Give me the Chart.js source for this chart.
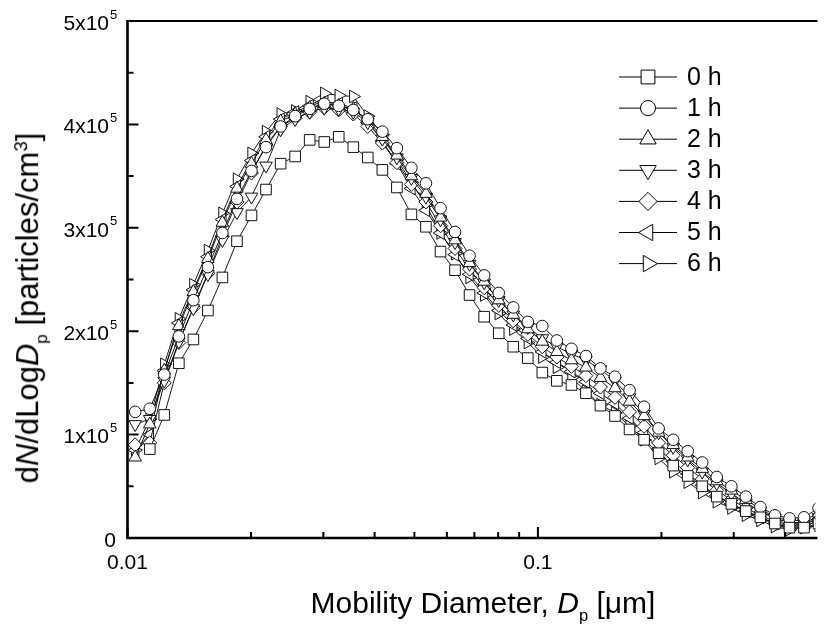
<!DOCTYPE html>
<html>
<head>
<meta charset="utf-8">
<script src="https://cdn.jsdelivr.net/npm/chart.js@4.4.1/dist/chart.umd.min.js"></script>
<style>
  html, body { margin: 0; padding: 0; background: #fff; }
  #wrap { position: relative; width: 824px; height: 625px; overflow: hidden; }
  .title {
    position: absolute;
    font-family: "Liberation Sans", Arial, sans-serif;
    font-size: 30px;
    line-height: 1;
    color: #000;
    white-space: nowrap;
  }
  .title sub { font-size: 55%; vertical-align: -0.5em; }
  .title sup { font-size: 60%; vertical-align: 0.6em; }
  #xTitle { left: 483px; top: 588px; transform: translateX(-50%); }
  #yTitle { left: 31px; top: 308px; font-size: 31px; transform: translate(-50%, -50%) rotate(-90deg); }
</style>
</head>
<body>
<div id="wrap">
  <canvas id="sizeChart"></canvas>
  <div class="title" id="xTitle">Mobility Diameter, <i>D</i><sub>p</sub> [&mu;m]</div>
  <div class="title" id="yTitle">d<i>N</i>/dLog<i>D</i><sub>p</sub> [particles/cm<sup>3</sup>]</div>
</div>
<script>
// mobility diameter of each channel [um]
const diameters = [
    0.01044, 0.01133, 0.01229, 0.01334, 0.01447, 0.01570, 0.01703, 0.01848,
    0.02005, 0.02175, 0.02361, 0.02561, 0.02779, 0.03016, 0.03271, 0.03549,
    0.03850, 0.04178, 0.04533, 0.04918, 0.05335, 0.05790, 0.06281, 0.06814,
    0.07396, 0.08026, 0.08708, 0.09447, 0.1025, 0.1112, 0.1207, 0.1309,
    0.1420, 0.1541, 0.1672, 0.1814, 0.1968, 0.2136, 0.2317, 0.2514,
    0.2727, 0.2960, 0.3211, 0.3483, 0.3779, 0.4102, 0.4450, 0.4828
];

// dN/dLogDp in units of 1x10^5 particles/cm3
const h0 = [
    null, 0.86, 1.19, 1.69, 1.92, 2.20, 2.52, 2.87, 3.12, 3.37,
    3.62, 3.69, 3.85, 3.83, 3.88, 3.78, 3.68, 3.56, 3.39, 3.13,
    3.01, 2.77, 2.59, 2.35, 2.14, 1.98, 1.85, 1.74, 1.60, 1.52,
    1.48, 1.40, 1.28, 1.18, 1.05, 0.95, 0.82, 0.70, 0.60, 0.50,
    0.40, 0.33, 0.26, 0.20, 0.14, 0.10, 0.10, 0.14
];
const h1 = [
    1.22, 1.25, 1.58, 1.95, 2.30, 2.62, 2.95, 3.28, 3.55, 3.78,
    3.98, 4.08, 4.15, 4.20, 4.18, 4.14, 4.05, 3.93, 3.77, 3.58,
    3.43, 3.19, 2.96, 2.73, 2.54, 2.37, 2.23, 2.09, 2.05, 1.91,
    1.83, 1.76, 1.64, 1.56, 1.43, 1.27, 1.06, 0.95, 0.84, 0.73,
    0.59, 0.50, 0.40, 0.30, 0.22, 0.19, 0.20, 0.29
];
const h2 = [
    0.78, 1.10, 1.62, 2.05, 2.38, 2.70, 3.05, 3.38, 3.62, 3.85,
    4.03, 4.10, 4.16, 4.20, 4.18, 4.15, 4.04, 3.88, 3.70, 3.50,
    3.33, 3.10, 2.88, 2.66, 2.48, 2.30, 2.16, 2.02, 1.90, 1.80,
    1.72, 1.65, 1.55, 1.45, 1.32, 1.18, 1.02, 0.90, 0.78, 0.67,
    0.55, 0.46, 0.37, 0.28, 0.20, 0.17, 0.17, 0.24
];
const h3 = [
    1.10, 1.15, 1.52, 1.90, 2.22, 2.55, 2.88, 3.15, 3.30, 3.60,
    3.95, 4.05, 4.12, 4.16, 4.15, 4.12, 4.02, 3.86, 3.68, 3.48,
    3.30, 3.08, 2.86, 2.65, 2.47, 2.30, 2.16, 2.04, 1.93, 1.85,
    1.78, 1.72, 1.63, 1.52, 1.36, 1.20, 1.02, 0.88, 0.76, 0.64,
    0.53, 0.43, 0.34, 0.26, 0.19, 0.15, 0.15, 0.20
];
const h4 = [
    0.90, 0.92, 1.50, 1.89, 2.23, 2.56, 2.92, 3.25, 3.53, 3.80,
    3.98, 4.06, 4.12, 4.16, 4.14, 4.10, 3.98, 3.82, 3.63, 3.42,
    3.25, 3.02, 2.80, 2.60, 2.42, 2.25, 2.10, 1.97, 1.85, 1.75,
    1.66, 1.57, 1.46, 1.36, 1.22, 1.08, 0.92, 0.80, 0.68, 0.57,
    0.46, 0.37, 0.29, 0.22, 0.16, 0.13, 0.14, 0.18
];
const h5 = [
    0.85, 1.00, 1.62, 2.08, 2.40, 2.72, 3.08, 3.40, 3.65, 3.88,
    4.05, 4.12, 4.18, 4.22, 4.20, 4.16, 4.02, 3.84, 3.62, 3.38,
    3.17, 2.95, 2.74, 2.55, 2.37, 2.20, 2.06, 1.93, 1.80, 1.70,
    1.61, 1.51, 1.40, 1.30, 1.16, 1.02, 0.86, 0.74, 0.62, 0.51,
    0.41, 0.33, 0.26, 0.20, 0.14, 0.11, 0.12, 0.16
];
const h6 = [
    0.85, 1.15, 1.68, 2.12, 2.45, 2.78, 3.14, 3.47, 3.72, 3.93,
    4.10, 4.13, 4.22, 4.30, 4.28, 4.27, 4.08, 3.90, 3.66, 3.44,
    3.22, 2.95, 2.75, 2.52, 2.35, 2.17, 2.02, 1.89, 1.75, 1.65,
    1.55, 1.42, 1.29, 1.21, 1.08, 0.95, 0.77, 0.64, 0.54, 0.44,
    0.35, 0.29, 0.22, 0.17, 0.11, 0.08, 0.10, 0.12
];

const seriesLabels = ["0 h", "1 h", "2 h", "3 h", "4 h", "5 h", "6 h"];

const xMajorTicks = [0.01, 0.1];
const xMajorLabels = ["0.01", "0.1"];
const xMinorTicks = [0.02, 0.03, 0.04, 0.05, 0.06, 0.07, 0.08, 0.09, 0.2, 0.3, 0.4];
const yMajorTicks = [0, 1, 2, 3, 4, 5];
const yMinorTicks = [0.5, 1.5, 2.5, 3.5, 4.5];

const markers = [
    { pointStyle: "rect", rotation: 0, radius: 7.5 },
    { pointStyle: "circle", rotation: 0, radius: 5.8 },
    { pointStyle: "triangle", rotation: 0, radius: 7.3 },
    { pointStyle: "triangle", rotation: 180, radius: 7.3 },
    { pointStyle: "rectRot", rotation: 0, radius: 7 },
    { pointStyle: "triangle", rotation: 270, radius: 7.3 },
    { pointStyle: "triangle", rotation: 90, radius: 7.3 }
];

const allSeries = [h0, h1, h2, h3, h4, h5, h6];

const FONT = '"Liberation Sans", Arial, sans-serif';

const datasets = allSeries.map((vals, i) => ({
    label: seriesLabels[i],
    data: diameters.map((d, j) => ({ x: d, y: vals[j] })),
    borderColor: "#000",
    borderWidth: 0.9,
    pointStyle: markers[i].pointStyle,
    rotation: markers[i].rotation,
    pointRadius: markers[i].radius,
    pointBackgroundColor: "#fff",
    pointBorderColor: "#111",
    pointBorderWidth: 1,
    tension: 0
}));

const framePlugin = {
    id: "frame",
    afterDraw(chart) {
        const { ctx, chartArea: a, scales: { x, y } } = chart;
        ctx.save();
        ctx.strokeStyle = "#000";
        ctx.lineCap = "butt";

        // frame: top, left, bottom (right side is cut by the picture edge)
        ctx.lineWidth = 2;
        ctx.beginPath();
        ctx.moveTo(a.left, a.top);
        ctx.lineTo(a.right + 2, a.top);
        ctx.stroke();
        ctx.lineWidth = 2.6;
        ctx.beginPath();
        ctx.moveTo(a.left, a.top - 1);
        ctx.lineTo(a.left, a.bottom);
        ctx.lineTo(a.right + 2, a.bottom);
        ctx.stroke();

        // inward ticks
        ctx.lineWidth = 2;
        ctx.beginPath();
        xMajorTicks.forEach(v => {
            const px = x.getPixelForValue(v);
            ctx.moveTo(px, a.bottom);
            ctx.lineTo(px, a.bottom - 11);
        });
        xMinorTicks.forEach(v => {
            const px = x.getPixelForValue(v);
            ctx.moveTo(px, a.bottom);
            ctx.lineTo(px, a.bottom - 6);
        });
        yMajorTicks.forEach(v => {
            const py = y.getPixelForValue(v);
            ctx.moveTo(a.left, py);
            ctx.lineTo(a.left + 11, py);
        });
        yMinorTicks.forEach(v => {
            const py = y.getPixelForValue(v);
            ctx.moveTo(a.left, py);
            ctx.lineTo(a.left + 6, py);
        });
        ctx.stroke();

        // tick labels
        ctx.fillStyle = "#000";
        ctx.textBaseline = "middle";
        ctx.font = "21px " + FONT;
        ctx.textAlign = "center";
        xMajorTicks.forEach((v, i) => {
            ctx.fillText(xMajorLabels[i], x.getPixelForValue(v), a.bottom + 25);
        });
        yMajorTicks.forEach(v => {
            const py = y.getPixelForValue(v) + 3;
            if (v === 0) {
                ctx.font = "21px " + FONT;
                ctx.textAlign = "right";
                ctx.fillText("0", 116, py);
            } else {
                ctx.font = "21px " + FONT;
                ctx.textAlign = "right";
                ctx.fillText(v + "x10", 109, py);
                ctx.font = "13px " + FONT;
                ctx.textAlign = "left";
                ctx.fillText("5", 110, py - 9);
            }
        });

        // legend
        ctx.font = "25px " + FONT;
        ctx.textAlign = "left";
        seriesLabels.forEach((label, i) => {
            const ly = 77 + 31.1 * i;
            ctx.lineWidth = 1;
            ctx.strokeStyle = "#000";
            ctx.beginPath();
            ctx.moveTo(619, ly);
            ctx.lineTo(677, ly);
            ctx.stroke();
            ctx.fillStyle = "#fff";
            ctx.strokeStyle = "#000";
            Chart.helpers.drawPoint(ctx, {
                pointStyle: markers[i].pointStyle,
                rotation: markers[i].rotation,
                radius: markers[i].radius * 1.3,
                borderWidth: 1.3
            }, 648, ly);
            ctx.fillStyle = "#000";
            ctx.fillText(label, 687, ly + 1);
        });
        ctx.restore();
    }
};

new Chart(document.getElementById("sizeChart"), {
    type: "line",
    data: { datasets },
    options: {
        responsive: true,
        maintainAspectRatio: false,
        animation: false,
        layout: { padding: { top: 21, right: 0, left: 0, bottom: 0 } },
        plugins: {
            legend: { display: false },
            tooltip: { enabled: false }
        },
        scales: {
            x: {
                type: "logarithmic",
                min: 0.01,
                max: 0.4746,
                grid: { display: false },
                border: { display: false },
                ticks: { display: false },
                afterFit(scale) { scale.height = 87; }
            },
            y: {
                type: "linear",
                min: 0,
                max: 5,
                grid: { display: false },
                border: { display: false },
                ticks: { display: false },
                afterFit(scale) { scale.width = 127.5; }
            }
        }
    },
    plugins: [framePlugin]
});
</script>
</body>
</html>
